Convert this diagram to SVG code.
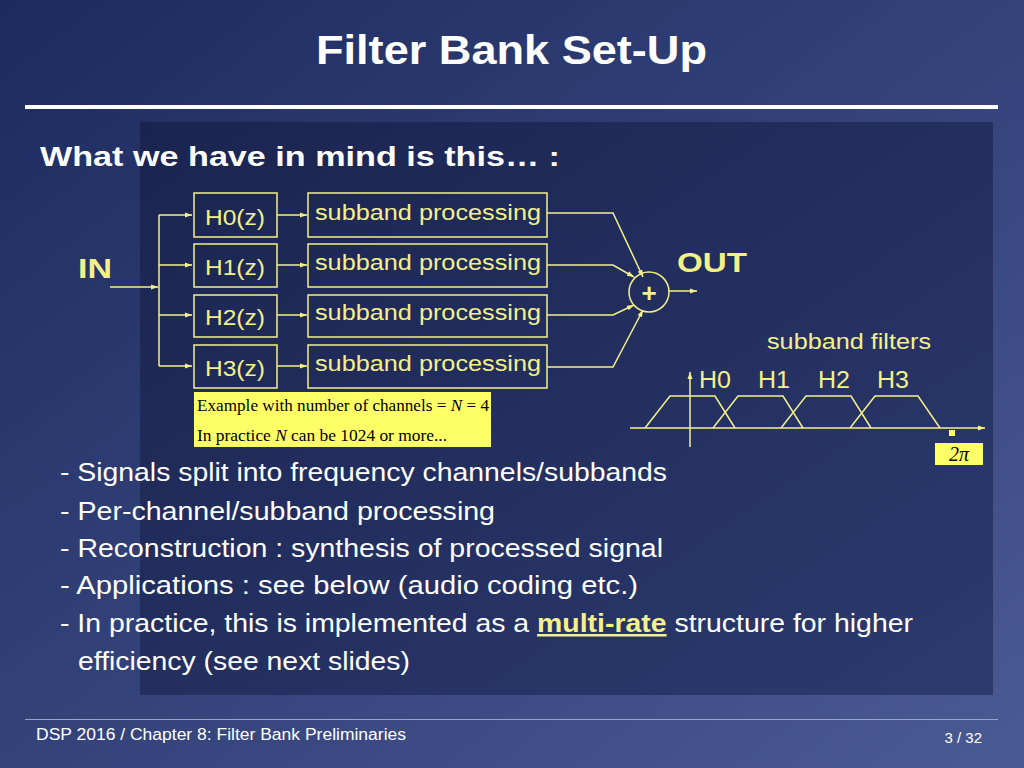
<svg xmlns="http://www.w3.org/2000/svg" width="1024" height="768" viewBox="0 0 1024 768">
<defs>
<linearGradient id="bg" x1="0" y1="0" x2="1" y2="1"><stop offset="0" stop-color="#1c2a5e"/><stop offset="1" stop-color="#4a5a94"/></linearGradient>
<linearGradient id="pn" x1="0" y1="0" x2="1" y2="1"><stop offset="0" stop-color="#1a2450"/><stop offset="1" stop-color="#2c3a6e"/></linearGradient>
<marker id="ar" markerWidth="8" markerHeight="8" refX="7" refY="4" orient="auto" markerUnits="userSpaceOnUse"><path d="M0,1.5 L7,4 L0,6.5z" fill="#f4f08a"/></marker>
<style>
.y{fill:none;stroke:#f4f08a;stroke-width:1.5}
.t{font-family:"Liberation Sans",Arial,sans-serif;fill:#f4f08a}
.w{font-family:"Liberation Sans",Arial,sans-serif;fill:#fff}
.s{font-family:"Liberation Serif","Times New Roman",serif;fill:#000}
</style>
</defs>
<rect width="1024" height="768" fill="url(#bg)"/>
<rect x="140" y="122" width="853" height="573" fill="url(#pn)"/>
<text x="316" y="64" textLength="391" lengthAdjust="spacingAndGlyphs" class="w" font-size="40" font-weight="bold">Filter Bank Set-Up</text>
<rect x="25" y="105" width="973" height="4" fill="#fff"/>
<text x="40" y="166" textLength="520" lengthAdjust="spacingAndGlyphs" class="w" font-size="28" font-weight="bold">What we have in mind is this… :</text>
<text x="78" y="278" textLength="34" lengthAdjust="spacingAndGlyphs" class="t" font-size="28" font-weight="bold">IN</text>
<text x="677" y="272" textLength="70" lengthAdjust="spacingAndGlyphs" class="t" font-size="28" font-weight="bold">OUT</text>
<g id="connectors">
<path class="y" d="M110,287 H158" marker-end="url(#ar)"/>
<path class="y" d="M159,215 V366"/>
<path class="y" d="M159,215 H192" marker-end="url(#ar)"/>
<path class="y" d="M159,265 H192" marker-end="url(#ar)"/>
<path class="y" d="M159,315 H192" marker-end="url(#ar)"/>
<path class="y" d="M159,366 H192" marker-end="url(#ar)"/>
<path class="y" d="M277,215 H307" marker-end="url(#ar)"/>
<path class="y" d="M277,265 H307" marker-end="url(#ar)"/>
<path class="y" d="M277,315 H307" marker-end="url(#ar)"/>
<path class="y" d="M277,366 H307" marker-end="url(#ar)"/>
<path class="y" d="M547,213 H613 L643,277" marker-end="url(#ar)"/>
<path class="y" d="M547,265 H613 L634,277" marker-end="url(#ar)"/>
<path class="y" d="M547,315 H613 L634,305" marker-end="url(#ar)"/>
<path class="y" d="M547,367 H613 L643,310" marker-end="url(#ar)"/>
<path class="y" d="M669,291 H697" marker-end="url(#ar)"/>
</g>
<g id="h0"><rect class="y" x="194" y="193" width="83" height="44"/><text x="205" y="225" textLength="60" lengthAdjust="spacingAndGlyphs" class="t" font-size="22">H0(z)</text></g>
<g id="h1"><rect class="y" x="194" y="244" width="83" height="43"/><text x="205" y="275" textLength="60" lengthAdjust="spacingAndGlyphs" class="t" font-size="22">H1(z)</text></g>
<g id="h2"><rect class="y" x="194" y="295" width="83" height="42"/><text x="205" y="325" textLength="60" lengthAdjust="spacingAndGlyphs" class="t" font-size="22">H2(z)</text></g>
<g id="h3"><rect class="y" x="194" y="345" width="83" height="43"/><text x="205" y="376" textLength="60" lengthAdjust="spacingAndGlyphs" class="t" font-size="22">H3(z)</text></g>
<g id="p0"><rect class="y" x="308" y="193" width="239" height="44"/><text x="315" y="220" textLength="226" lengthAdjust="spacingAndGlyphs" class="t" font-size="22">subband processing</text></g>
<g id="p1"><rect class="y" x="308" y="244" width="239" height="43"/><text x="315" y="270" textLength="226" lengthAdjust="spacingAndGlyphs" class="t" font-size="22">subband processing</text></g>
<g id="p2"><rect class="y" x="308" y="295" width="239" height="42"/><text x="315" y="320" textLength="226" lengthAdjust="spacingAndGlyphs" class="t" font-size="22">subband processing</text></g>
<g id="p3"><rect class="y" x="308" y="345" width="239" height="43"/><text x="315" y="371" textLength="226" lengthAdjust="spacingAndGlyphs" class="t" font-size="22">subband processing</text></g>
<g id="sum"><circle class="y" cx="649" cy="292" r="20"/><text x="649" y="302" class="t" font-size="26" font-weight="bold" text-anchor="middle">+</text></g>
<g id="note"><rect x="194" y="392" width="297" height="55" fill="#ffff66"/>
<text x="197" y="411" textLength="292" lengthAdjust="spacingAndGlyphs" class="s" font-size="17">Example with number of channels = <tspan font-style="italic">N</tspan> = 4</text>
<text x="197" y="441" textLength="250" lengthAdjust="spacingAndGlyphs" class="s" font-size="17">In practice <tspan font-style="italic">N</tspan> can be 1024 or more...</text></g>
<g id="filters">
<text x="767" y="349" textLength="164" lengthAdjust="spacingAndGlyphs" class="t" font-size="22">subband filters</text>
<path class="y" d="M630,428 H985" marker-end="url(#ar)"/>
<path class="y" d="M690,447 V372" marker-end="url(#ar)"/>
<path class="y" d="M645,428 L670,396 H715 L735,428 M713,428 L738,396 H783 L803,428 M781,428 L806,396 H851 L871,428 M850,428 L875,396 H918 L940,428"/>
<text x="699" y="388" textLength="32" lengthAdjust="spacingAndGlyphs" class="t" font-size="23">H0</text>
<text x="758" y="388" textLength="32" lengthAdjust="spacingAndGlyphs" class="t" font-size="23">H1</text>
<text x="818" y="388" textLength="32" lengthAdjust="spacingAndGlyphs" class="t" font-size="23">H2</text>
<text x="877" y="388" textLength="32" lengthAdjust="spacingAndGlyphs" class="t" font-size="23">H3</text>
<rect x="949" y="430" width="6" height="6" fill="#ffff66"/>
<rect x="935" y="443" width="48" height="22" fill="#ffff66"/>
<text x="959" y="461" class="s" font-size="20" font-style="italic" text-anchor="middle">2π</text>
</g>
<g class="w" font-size="25">
<text x="60" y="481" textLength="607" lengthAdjust="spacingAndGlyphs">- Signals split into frequency channels/subbands</text>
<text x="60" y="520" textLength="435" lengthAdjust="spacingAndGlyphs">- Per-channel/subband processing</text>
<text x="60" y="557" textLength="603" lengthAdjust="spacingAndGlyphs">- Reconstruction : synthesis of processed signal</text>
<text x="60" y="594" textLength="578" lengthAdjust="spacingAndGlyphs">- Applications : see below (audio coding etc.)</text>
<text x="60" y="632" textLength="853" lengthAdjust="spacingAndGlyphs">- In practice, this is implemented as a <tspan fill="#f4f08a" font-weight="bold" text-decoration="underline">multi-rate</tspan> structure for higher</text>
<text x="78" y="670" textLength="332" lengthAdjust="spacingAndGlyphs">efficiency (see next slides)</text>
</g>
<rect x="25" y="719" width="973" height="1" fill="#9aa4c8"/>
<text x="36" y="740" textLength="370" lengthAdjust="spacingAndGlyphs" class="w" font-size="16">DSP 2016  /  Chapter 8: Filter Bank Preliminaries</text>
<text x="982" y="743" class="w" font-size="15" text-anchor="end">3 / 32</text>
</svg>
